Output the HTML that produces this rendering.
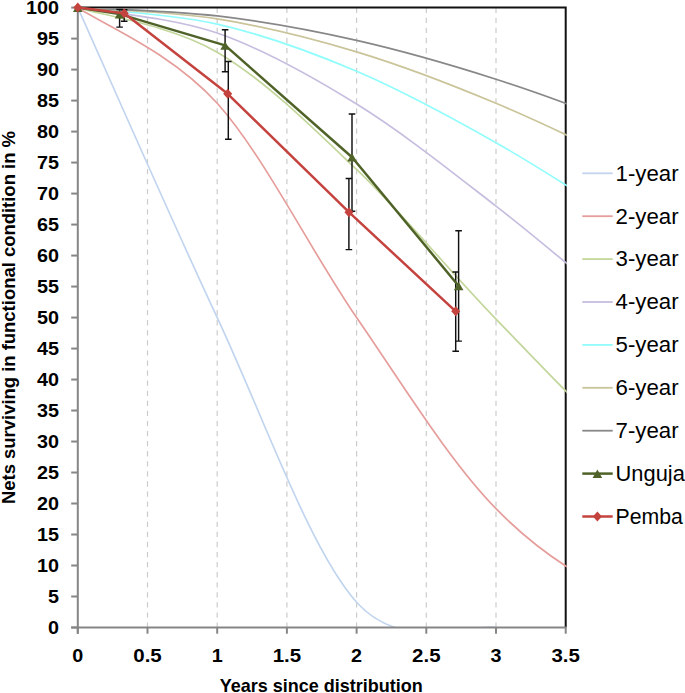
<!DOCTYPE html><html><head><meta charset="utf-8"><style>html,body{margin:0;padding:0;background:#fff;}svg{display:block;}text{font-family:"Liberation Sans",sans-serif;}</style></head><body>
<svg width="685" height="693" viewBox="0 0 685 693">
<rect width="685" height="693" fill="#fff"/>
<defs><clipPath id="pa"><rect x="77.80" y="8.60" width="489.10" height="618.90"/></clipPath></defs>
<line x1="147.50" y1="7.60" x2="147.50" y2="627.50" stroke="#CCCCCC" stroke-width="1.2" stroke-dasharray="5.3 4.78"/>
<line x1="217.20" y1="7.60" x2="217.20" y2="627.50" stroke="#CCCCCC" stroke-width="1.2" stroke-dasharray="5.3 4.78"/>
<line x1="286.90" y1="7.60" x2="286.90" y2="627.50" stroke="#CCCCCC" stroke-width="1.2" stroke-dasharray="5.3 4.78"/>
<line x1="356.60" y1="7.60" x2="356.60" y2="627.50" stroke="#CCCCCC" stroke-width="1.2" stroke-dasharray="5.3 4.78"/>
<line x1="426.30" y1="7.60" x2="426.30" y2="627.50" stroke="#CCCCCC" stroke-width="1.2" stroke-dasharray="5.3 4.78"/>
<line x1="496.00" y1="7.60" x2="496.00" y2="627.50" stroke="#CCCCCC" stroke-width="1.2" stroke-dasharray="5.3 4.78"/>
<path d="M77.80,7.60 H565.70 V627.50" fill="none" stroke="#111" stroke-width="2"/>
<g clip-path="url(#pa)" fill="none" stroke-width="1.7">
<path d="M77.80,7.60 C101.03,59.26 170.73,218.44 217.20,317.55 C263.67,416.66 310.13,550.63 356.60,602.29 C403.07,653.94 472.77,623.27 496.00,627.46" stroke="#C2D5EF"/>
<path d="M77.80,7.60 C101.03,23.55 170.73,51.63 217.20,103.29 C263.67,154.95 310.13,249.99 356.60,317.55 C403.07,385.11 449.53,461.22 496.00,508.68 C542.47,556.13 588.93,582.84 635.40,602.29 C681.87,621.73 728.33,621.15 774.80,625.34 C821.27,629.54 867.73,627.10 914.20,627.46 C960.67,627.82 1030.37,627.49 1053.60,627.50" stroke="#E59E9B"/>
<path d="M77.80,7.60 C101.03,15.02 170.73,25.16 217.20,52.14 C263.67,79.13 310.13,125.00 356.60,169.48 C403.07,213.97 449.53,271.27 496.00,319.05 C542.47,366.83 588.93,417.31 635.40,456.16 C681.87,495.02 728.33,527.70 774.80,552.17 C821.27,576.63 867.73,591.27 914.20,602.93 C960.67,614.59 1030.37,618.94 1053.60,622.14" stroke="#C3D69B"/>
<path d="M77.80,7.60 C101.03,11.85 170.73,16.99 217.20,33.07 C263.67,49.15 310.13,75.26 356.60,104.09 C403.07,132.93 449.53,170.18 496.00,206.10 C542.47,242.01 588.93,282.99 635.40,319.58 C681.87,356.16 728.33,393.76 774.80,425.60 C821.27,457.44 867.73,486.71 914.20,510.63 C960.67,534.55 1030.37,559.39 1053.60,569.14" stroke="#C6BDDF"/>
<path d="M77.80,7.60 C101.03,10.35 170.73,13.47 217.20,24.07 C263.67,34.68 310.13,51.46 356.60,71.23 C403.07,91.00 449.53,116.36 496.00,142.70 C542.47,169.04 588.93,199.62 635.40,229.25 C681.87,258.88 728.33,290.90 774.80,320.48 C821.27,350.06 867.73,380.04 914.20,406.73 C960.67,433.41 1030.37,468.30 1053.60,480.61" stroke="#90FCFC"/>
<path d="M77.80,7.60 C101.03,9.49 170.73,11.56 217.20,18.93 C263.67,26.31 310.13,37.80 356.60,51.86 C403.07,65.92 449.53,83.84 496.00,103.29 C542.47,122.74 588.93,145.43 635.40,168.54 C681.87,191.65 728.33,217.11 774.80,241.94 C821.27,266.78 867.73,292.89 914.20,317.55 C960.67,342.21 1030.37,377.83 1053.60,389.89" stroke="#CAC49A"/>
<path d="M77.80,7.60 C101.03,8.99 170.73,10.48 217.20,15.94 C263.67,21.41 310.13,29.84 356.60,40.39 C403.07,50.94 449.53,64.34 496.00,79.25 C542.47,94.17 588.93,111.60 635.40,129.88 C681.87,148.16 728.33,168.46 774.80,188.94 C821.27,209.42 867.73,231.31 914.20,252.74 C960.67,274.18 1030.37,306.75 1053.60,317.55" stroke="#888888"/>
</g>
<line x1="77.80" y1="6.60" x2="77.80" y2="633.70" stroke="#868686" stroke-width="2"/>
<line x1="71.20" y1="627.50" x2="566.20" y2="627.50" stroke="#868686" stroke-width="2"/>
<line x1="71.20" y1="627.50" x2="77.80" y2="627.50" stroke="#868686" stroke-width="2"/>
<line x1="71.20" y1="596.50" x2="77.80" y2="596.50" stroke="#868686" stroke-width="2"/>
<line x1="71.20" y1="565.51" x2="77.80" y2="565.51" stroke="#868686" stroke-width="2"/>
<line x1="71.20" y1="534.51" x2="77.80" y2="534.51" stroke="#868686" stroke-width="2"/>
<line x1="71.20" y1="503.52" x2="77.80" y2="503.52" stroke="#868686" stroke-width="2"/>
<line x1="71.20" y1="472.52" x2="77.80" y2="472.52" stroke="#868686" stroke-width="2"/>
<line x1="71.20" y1="441.53" x2="77.80" y2="441.53" stroke="#868686" stroke-width="2"/>
<line x1="71.20" y1="410.53" x2="77.80" y2="410.53" stroke="#868686" stroke-width="2"/>
<line x1="71.20" y1="379.54" x2="77.80" y2="379.54" stroke="#868686" stroke-width="2"/>
<line x1="71.20" y1="348.55" x2="77.80" y2="348.55" stroke="#868686" stroke-width="2"/>
<line x1="71.20" y1="317.55" x2="77.80" y2="317.55" stroke="#868686" stroke-width="2"/>
<line x1="71.20" y1="286.56" x2="77.80" y2="286.56" stroke="#868686" stroke-width="2"/>
<line x1="71.20" y1="255.56" x2="77.80" y2="255.56" stroke="#868686" stroke-width="2"/>
<line x1="71.20" y1="224.56" x2="77.80" y2="224.56" stroke="#868686" stroke-width="2"/>
<line x1="71.20" y1="193.57" x2="77.80" y2="193.57" stroke="#868686" stroke-width="2"/>
<line x1="71.20" y1="162.57" x2="77.80" y2="162.57" stroke="#868686" stroke-width="2"/>
<line x1="71.20" y1="131.58" x2="77.80" y2="131.58" stroke="#868686" stroke-width="2"/>
<line x1="71.20" y1="100.59" x2="77.80" y2="100.59" stroke="#868686" stroke-width="2"/>
<line x1="71.20" y1="69.59" x2="77.80" y2="69.59" stroke="#868686" stroke-width="2"/>
<line x1="71.20" y1="38.60" x2="77.80" y2="38.60" stroke="#868686" stroke-width="2"/>
<line x1="71.20" y1="7.60" x2="77.80" y2="7.60" stroke="#868686" stroke-width="2"/>
<line x1="77.80" y1="627.50" x2="77.80" y2="633.70" stroke="#868686" stroke-width="2"/>
<line x1="147.50" y1="627.50" x2="147.50" y2="633.70" stroke="#868686" stroke-width="2"/>
<line x1="217.20" y1="627.50" x2="217.20" y2="633.70" stroke="#868686" stroke-width="2"/>
<line x1="286.90" y1="627.50" x2="286.90" y2="633.70" stroke="#868686" stroke-width="2"/>
<line x1="356.60" y1="627.50" x2="356.60" y2="633.70" stroke="#868686" stroke-width="2"/>
<line x1="426.30" y1="627.50" x2="426.30" y2="633.70" stroke="#868686" stroke-width="2"/>
<line x1="496.00" y1="627.50" x2="496.00" y2="633.70" stroke="#868686" stroke-width="2"/>
<line x1="565.70" y1="627.50" x2="565.70" y2="633.70" stroke="#868686" stroke-width="2"/>
<path d="M119.60,9.45 V27.10 M116.30,9.45 H122.90 M116.30,27.10 H122.90" stroke="#111" stroke-width="1.45" fill="none"/>
<path d="M124.20,9.70 V21.20 M120.90,9.70 H127.50 M120.90,21.20 H127.50" stroke="#111" stroke-width="1.45" fill="none"/>
<path d="M225.10,29.75 V71.70 M221.80,29.75 H228.40 M221.80,71.70 H228.40" stroke="#111" stroke-width="1.45" fill="none"/>
<path d="M228.30,61.50 V139.30 M225.00,61.50 H231.60 M225.00,139.30 H231.60" stroke="#111" stroke-width="1.45" fill="none"/>
<path d="M352.00,113.90 V211.30 M348.70,113.90 H355.30 M348.70,211.30 H355.30" stroke="#111" stroke-width="1.45" fill="none"/>
<path d="M348.90,178.50 V249.60 M345.60,178.50 H352.20 M345.60,249.60 H352.20" stroke="#111" stroke-width="1.45" fill="none"/>
<path d="M458.60,230.80 V341.10 M455.30,230.80 H461.90 M455.30,341.10 H461.90" stroke="#111" stroke-width="1.45" fill="none"/>
<path d="M455.70,271.90 V351.20 M452.40,271.90 H459.00 M452.40,351.20 H459.00" stroke="#111" stroke-width="1.45" fill="none"/>
<polyline points="77.80,7.60 119.61,14.11 225.13,45.41 352.06,157.31 458.67,285.94" fill="none" stroke="#4F6228" stroke-width="2.5" stroke-linejoin="round"/>
<path d="M77.80,3.60 L82.60,11.90 L73.00,11.90 Z" fill="#4F6228"/>
<path d="M119.61,10.11 L124.41,18.41 L114.81,18.41 Z" fill="#4F6228"/>
<path d="M225.13,41.41 L229.93,49.71 L220.33,49.71 Z" fill="#4F6228"/>
<path d="M352.06,153.31 L356.86,161.61 L347.26,161.61 Z" fill="#4F6228"/>
<path d="M458.67,281.94 L463.47,290.24 L453.87,290.24 Z" fill="#4F6228"/>
<polyline points="77.80,7.60 124.22,13.18 227.66,93.77 348.93,212.17 455.71,311.35" fill="none" stroke="#C4433F" stroke-width="2.5" stroke-linejoin="round"/>
<path d="M77.80,2.60 L82.30,7.60 L77.80,12.60 L73.30,7.60 Z" fill="#C4433F"/>
<path d="M124.22,8.18 L128.72,13.18 L124.22,18.18 L119.72,13.18 Z" fill="#C4433F"/>
<path d="M227.66,88.77 L232.16,93.77 L227.66,98.77 L223.16,93.77 Z" fill="#C4433F"/>
<path d="M348.93,207.17 L353.43,212.17 L348.93,217.17 L344.43,212.17 Z" fill="#C4433F"/>
<path d="M455.71,306.35 L460.21,311.35 L455.71,316.35 L451.21,311.35 Z" fill="#C4433F"/>
<text x="59.1" y="633.80" font-size="17.5" font-weight="bold" text-anchor="end" fill="#000" textLength="10.99" lengthAdjust="spacingAndGlyphs">0</text>
<text x="59.1" y="602.80" font-size="17.5" font-weight="bold" text-anchor="end" fill="#000" textLength="10.99" lengthAdjust="spacingAndGlyphs">5</text>
<text x="59.1" y="571.81" font-size="17.5" font-weight="bold" text-anchor="end" fill="#000" textLength="21.99" lengthAdjust="spacingAndGlyphs">10</text>
<text x="59.1" y="540.81" font-size="17.5" font-weight="bold" text-anchor="end" fill="#000" textLength="21.99" lengthAdjust="spacingAndGlyphs">15</text>
<text x="59.1" y="509.82" font-size="17.5" font-weight="bold" text-anchor="end" fill="#000" textLength="21.99" lengthAdjust="spacingAndGlyphs">20</text>
<text x="59.1" y="478.82" font-size="17.5" font-weight="bold" text-anchor="end" fill="#000" textLength="21.99" lengthAdjust="spacingAndGlyphs">25</text>
<text x="59.1" y="447.83" font-size="17.5" font-weight="bold" text-anchor="end" fill="#000" textLength="21.99" lengthAdjust="spacingAndGlyphs">30</text>
<text x="59.1" y="416.83" font-size="17.5" font-weight="bold" text-anchor="end" fill="#000" textLength="21.99" lengthAdjust="spacingAndGlyphs">35</text>
<text x="59.1" y="385.84" font-size="17.5" font-weight="bold" text-anchor="end" fill="#000" textLength="21.99" lengthAdjust="spacingAndGlyphs">40</text>
<text x="59.1" y="354.85" font-size="17.5" font-weight="bold" text-anchor="end" fill="#000" textLength="21.99" lengthAdjust="spacingAndGlyphs">45</text>
<text x="59.1" y="323.85" font-size="17.5" font-weight="bold" text-anchor="end" fill="#000" textLength="21.99" lengthAdjust="spacingAndGlyphs">50</text>
<text x="59.1" y="292.86" font-size="17.5" font-weight="bold" text-anchor="end" fill="#000" textLength="21.99" lengthAdjust="spacingAndGlyphs">55</text>
<text x="59.1" y="261.86" font-size="17.5" font-weight="bold" text-anchor="end" fill="#000" textLength="21.99" lengthAdjust="spacingAndGlyphs">60</text>
<text x="59.1" y="230.87" font-size="17.5" font-weight="bold" text-anchor="end" fill="#000" textLength="21.99" lengthAdjust="spacingAndGlyphs">65</text>
<text x="59.1" y="199.87" font-size="17.5" font-weight="bold" text-anchor="end" fill="#000" textLength="21.99" lengthAdjust="spacingAndGlyphs">70</text>
<text x="59.1" y="168.88" font-size="17.5" font-weight="bold" text-anchor="end" fill="#000" textLength="21.99" lengthAdjust="spacingAndGlyphs">75</text>
<text x="59.1" y="137.88" font-size="17.5" font-weight="bold" text-anchor="end" fill="#000" textLength="21.99" lengthAdjust="spacingAndGlyphs">80</text>
<text x="59.1" y="106.89" font-size="17.5" font-weight="bold" text-anchor="end" fill="#000" textLength="21.99" lengthAdjust="spacingAndGlyphs">85</text>
<text x="59.1" y="75.89" font-size="17.5" font-weight="bold" text-anchor="end" fill="#000" textLength="21.99" lengthAdjust="spacingAndGlyphs">90</text>
<text x="59.1" y="44.90" font-size="17.5" font-weight="bold" text-anchor="end" fill="#000" textLength="21.99" lengthAdjust="spacingAndGlyphs">95</text>
<text x="59.1" y="13.90" font-size="17.5" font-weight="bold" text-anchor="end" fill="#000" textLength="32.98" lengthAdjust="spacingAndGlyphs">100</text>
<text x="77.80" y="662" font-size="17.5" font-weight="bold" text-anchor="middle" fill="#000" textLength="10.99" lengthAdjust="spacingAndGlyphs">0</text>
<text x="147.50" y="662" font-size="17.5" font-weight="bold" text-anchor="middle" fill="#000" textLength="28.46" lengthAdjust="spacingAndGlyphs">0.5</text>
<text x="217.20" y="662" font-size="17.5" font-weight="bold" text-anchor="middle" fill="#000" textLength="10.99" lengthAdjust="spacingAndGlyphs">1</text>
<text x="286.90" y="662" font-size="17.5" font-weight="bold" text-anchor="middle" fill="#000" textLength="28.46" lengthAdjust="spacingAndGlyphs">1.5</text>
<text x="356.60" y="662" font-size="17.5" font-weight="bold" text-anchor="middle" fill="#000" textLength="10.99" lengthAdjust="spacingAndGlyphs">2</text>
<text x="426.30" y="662" font-size="17.5" font-weight="bold" text-anchor="middle" fill="#000" textLength="28.46" lengthAdjust="spacingAndGlyphs">2.5</text>
<text x="496.00" y="662" font-size="17.5" font-weight="bold" text-anchor="middle" fill="#000" textLength="10.99" lengthAdjust="spacingAndGlyphs">3</text>
<text x="565.70" y="662" font-size="17.5" font-weight="bold" text-anchor="middle" fill="#000" textLength="28.46" lengthAdjust="spacingAndGlyphs">3.5</text>
<text x="321.3" y="691.5" font-size="18.5" font-weight="bold" text-anchor="middle" fill="#000" textLength="203" lengthAdjust="spacingAndGlyphs">Years since distribution</text>
<text transform="translate(15.1,317.55) rotate(-90)" x="0" y="0" font-size="18.5" font-weight="bold" text-anchor="middle" fill="#000" textLength="373" lengthAdjust="spacingAndGlyphs">Nets surviving in functional condition in %</text>
<line x1="582.30" y1="173.30" x2="612.70" y2="173.30" stroke="#C2D5EF" stroke-width="1.8"/>
<text x="615.60" y="180.60" font-size="21.5" fill="#000" textLength="63.00" lengthAdjust="spacingAndGlyphs">1-year</text>
<line x1="582.30" y1="216.20" x2="612.70" y2="216.20" stroke="#E59E9B" stroke-width="1.8"/>
<text x="615.60" y="223.50" font-size="21.5" fill="#000" textLength="63.00" lengthAdjust="spacingAndGlyphs">2-year</text>
<line x1="582.30" y1="259.10" x2="612.70" y2="259.10" stroke="#C3D69B" stroke-width="1.8"/>
<text x="615.60" y="266.40" font-size="21.5" fill="#000" textLength="63.00" lengthAdjust="spacingAndGlyphs">3-year</text>
<line x1="582.30" y1="302.00" x2="612.70" y2="302.00" stroke="#C6BDDF" stroke-width="1.8"/>
<text x="615.60" y="309.30" font-size="21.5" fill="#000" textLength="63.00" lengthAdjust="spacingAndGlyphs">4-year</text>
<line x1="582.30" y1="344.90" x2="612.70" y2="344.90" stroke="#90FCFC" stroke-width="1.8"/>
<text x="615.60" y="352.20" font-size="21.5" fill="#000" textLength="63.00" lengthAdjust="spacingAndGlyphs">5-year</text>
<line x1="582.30" y1="387.80" x2="612.70" y2="387.80" stroke="#CAC49A" stroke-width="1.8"/>
<text x="615.60" y="395.10" font-size="21.5" fill="#000" textLength="63.00" lengthAdjust="spacingAndGlyphs">6-year</text>
<line x1="582.30" y1="430.70" x2="612.70" y2="430.70" stroke="#888888" stroke-width="1.8"/>
<text x="615.60" y="438.00" font-size="21.5" fill="#000" textLength="63.00" lengthAdjust="spacingAndGlyphs">7-year</text>
<line x1="582.30" y1="473.60" x2="612.70" y2="473.60" stroke="#4F6228" stroke-width="2.5"/>
<path d="M597.40,469.60 L602.20,477.90 L592.60,477.90 Z" fill="#4F6228"/>
<text x="615.60" y="480.90" font-size="21.5" fill="#000" textLength="69.20" lengthAdjust="spacingAndGlyphs">Unguja</text>
<line x1="582.30" y1="516.50" x2="612.70" y2="516.50" stroke="#C4433F" stroke-width="2.5"/>
<path d="M597.40,511.50 L601.90,516.50 L597.40,521.50 L592.90,516.50 Z" fill="#C4433F"/>
<text x="615.60" y="523.80" font-size="21.5" fill="#000" textLength="67.30" lengthAdjust="spacingAndGlyphs">Pemba</text>
</svg></body></html>
